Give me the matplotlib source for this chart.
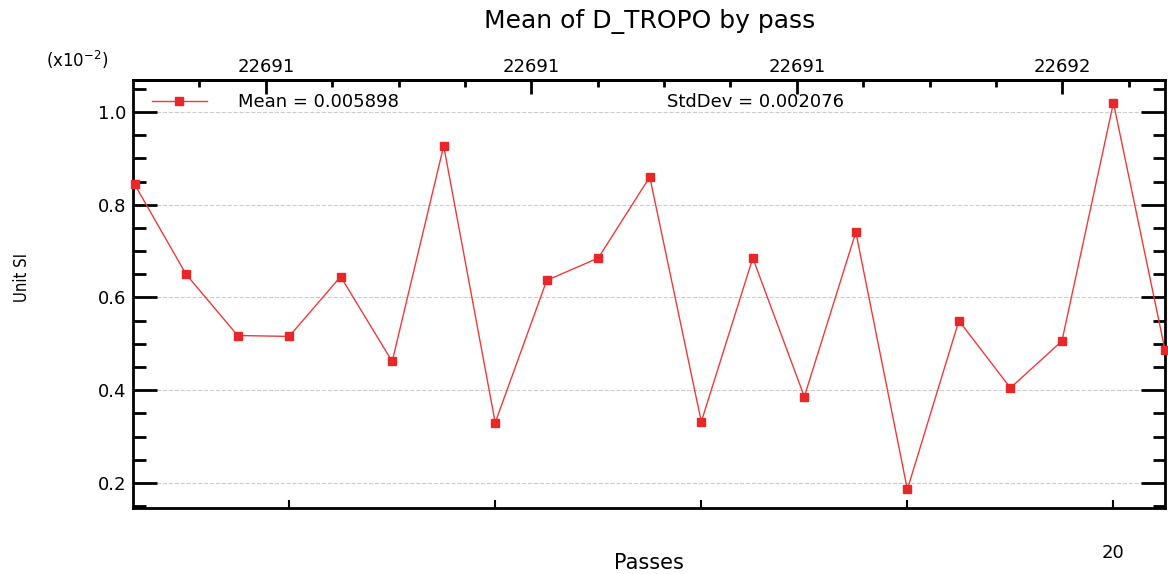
import numpy as np
import matplotlib
matplotlib.use('Agg')
import matplotlib.pyplot as plt

# pass index and mean D_TROPO per pass (values in units of 1e-2)
passes = np.arange(1, 22)
mean_tropo = [0.844, 0.650, 0.518, 0.516, 0.645, 0.462, 0.927, 0.330, 0.637, 0.685, 0.860,
              0.332, 0.685, 0.386, 0.741, 0.186, 0.550, 0.405, 0.506, 1.020, 0.487]
mean_txt = 'Mean = 0.005898'
std_txt = 'StdDev = 0.002076'

# top axis: time (days) per pass
t_ref = 22692.0
pass_ref = 19.01
day_per_pass = 0.0388
top_ticks = [22691.4, 22691.6, 22691.8, 22692.0]
top_minor = np.arange(22691.1, 22692.2, 0.05)

red = '#f03a3a'

fig = plt.figure(figsize=(11.68, 5.74), dpi=100)
ax = fig.add_axes([0.1139, 0.115, 0.8835, 0.7456])

ax.plot(passes, mean_tropo, color=red, lw=1, marker='s', ms=5.5, mfc='#e82828', mec='#e82828',
        label=mean_txt, clip_on=False, zorder=3)

ax.set_xlim(0.97, 21.0)
ax.set_ylim(0.146, 1.069)

ax.set_yticks([0.2, 0.4, 0.6, 0.8, 1.0])
ax.set_yticklabels(['0.2', '0.4', '0.6', '0.8', '1.0'], fontsize=13)
ax.set_yticks(np.arange(0.15, 1.07, 0.05), minor=True)
ax.set_xticks([4, 8, 12, 16, 20])
ax.set_xticklabels(['', '', '', '', '20'], fontsize=13)

ax.tick_params(axis='y', which='major', direction='in', length=17, width=2, right=True, pad=5)
ax.tick_params(axis='y', which='minor', direction='in', length=9, width=2, right=True)
ax.tick_params(axis='x', which='major', direction='in', length=6, width=1.5, pad=26)
for s in ax.spines.values():
    s.set_linewidth(2)

ax.grid(axis='y', ls='--', color='#cccccc', lw=0.8)

# top time axis
sec = ax.secondary_xaxis('top', functions=(lambda x: t_ref + (x - pass_ref) * day_per_pass,
                                           lambda t: pass_ref + (t - t_ref) / day_per_pass))
sec.set_xticks(top_ticks)
sec.set_xticklabels(['%d' % t for t in top_ticks], fontsize=13)
sec.set_xticks(top_minor, minor=True)
sec.tick_params(which='major', direction='in', length=10, width=2, pad=3)
sec.tick_params(which='minor', direction='in', length=5, width=2)
sec.spines['top'].set_linewidth(2)

leg = ax.legend(loc='center left', bbox_to_anchor=(0.01, 0.9486), frameon=False, fontsize=13,
                handlelength=3.0, handletextpad=1.75, borderpad=0)
ax.text(0.517, 0.9486, std_txt, transform=ax.transAxes, fontsize=13, va='center', ha='left')

fig.text(0.066, 0.895, r'(x10$^{-2}$)', fontsize=12, ha='center', va='center')
fig.text(0.556, 0.962, 'Mean of D_TROPO by pass', fontsize=18, ha='center', va='center')
fig.text(0.556, 0.019, 'Passes', fontsize=15, ha='center', va='center')
fig.text(0.019, 0.517, 'Unit SI', fontsize=12, ha='center', va='center', rotation=90,
         fontstretch='condensed')

fig.savefig('out.png', dpi=100)
